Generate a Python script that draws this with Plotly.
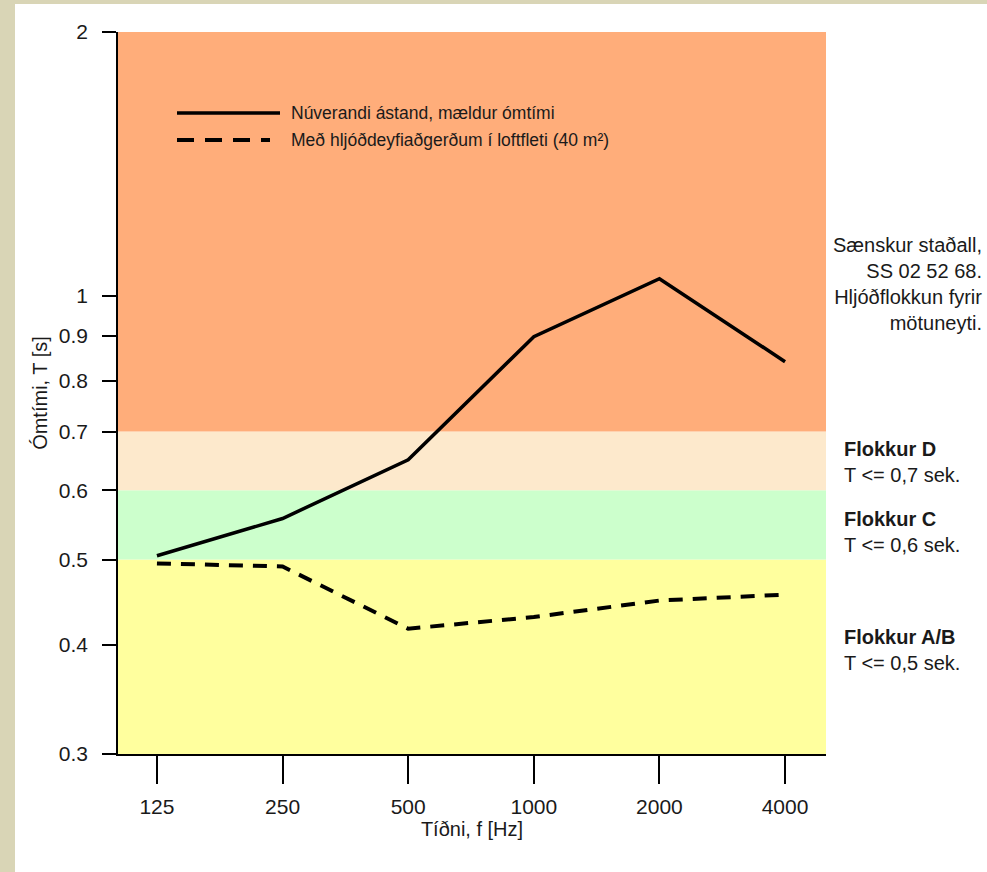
import plotly.graph_objects as go

# ---- data ----
freqs = ["125", "250", "500", "1000", "2000", "4000"]
measured = [0.505, 0.557, 0.650, 0.898, 1.046, 0.841]
treated = [0.495, 0.491, 0.417, 0.430, 0.449, 0.456]
series_names = ["Núverandi ástand, mældur ómtími",
                "Með hljóðdeyfiaðgerðum í loftfleti (40 m²)"]

y_tickvals = [0.3, 0.4, 0.5, 0.6, 0.7, 0.8, 0.9, 1, 2]
y_ticktext = ["0.3", "0.4", "0.5", "0.6", "0.7", "0.8", "0.9", "1", "2"]

band_low = [0.3, 0.5, 0.6, 0.7]
band_high = [0.5, 0.6, 0.7, 2.0]
band_colors = ["#FFFF9E", "#CCFFCC", "#FDE9CC", "#FFAD7A"]

class_titles = ["Flokkur D", "Flokkur C", "Flokkur A/B"]
class_limits = ["T <= 0,7 sek.", "T <= 0,6 sek.", "T <= 0,5 sek."]

# ---- layout geometry (pixels) ----
W, H = 987, 872
L, R, T, B = 118, 826, 32, 754
pw, ph = R - L, B - T


def px(x):
    return (x - L) / pw


def py(y):
    return (B - y) / ph


FONT = "Liberation Sans"
TXT = "#1a1a1a"

fig = go.Figure()

fig.add_trace(go.Scatter(
    x=freqs, y=measured, mode="lines", name=series_names[0],
    line=dict(color="black", width=3.5), showlegend=False))
fig.add_trace(go.Scatter(
    x=freqs, y=treated, mode="lines", name=series_names[1],
    line=dict(color="black", width=4, dash="14px,10px"), showlegend=False))

shapes = []
# white panel over beige background
shapes.append(dict(type="rect", xref="paper", yref="paper", layer="below",
                   x0=px(15), x1=px(W + 20), y0=py(H + 20), y1=py(4),
                   fillcolor="white", line=dict(width=0)))
# classification bands
for lo, hi, c in zip(band_low, band_high, band_colors):
    shapes.append(dict(type="rect", xref="paper", yref="y", layer="below",
                       x0=0, x1=1, y0=lo, y1=hi,
                       fillcolor=c, line=dict(width=0)))
# legend samples
shapes.append(dict(type="line", xref="paper", yref="paper",
                   x0=px(177), x1=px(280), y0=py(113), y1=py(113),
                   line=dict(color="black", width=3.5)))
shapes.append(dict(type="line", xref="paper", yref="paper",
                   x0=px(177), x1=px(270), y0=py(140), y1=py(140),
                   line=dict(color="black", width=4, dash="17px,11px")))

annotations = []
for name, yy in zip(series_names, [113, 140]):
    annotations.append(dict(xref="paper", yref="paper", x=px(289), y=py(yy),
                            xanchor="left", yanchor="middle", showarrow=False,
                            text=name, font=dict(family=FONT, size=17.5, color=TXT)))

for title, lim, yy in zip(class_titles, class_limits, [462, 531.5, 650]):
    annotations.append(dict(xref="paper", yref="paper", x=px(842), y=py(yy),
                            xanchor="left", yanchor="middle", showarrow=False,
                            align="left",
                            text="<b>" + title + "</b><br>" + lim,
                            font=dict(family=FONT, size=20, color=TXT)))

annotations.append(dict(xref="paper", yref="paper", x=px(984), y=py(283.5),
                        xanchor="right", yanchor="middle", showarrow=False,
                        align="right",
                        text="Sænskur staðall,<br>SS 02 52 68.<br>Hljóðflokkun fyrir<br>mötuneyti.",
                        font=dict(family=FONT, size=20, color=TXT)))

fig.update_layout(
    width=W, height=H,
    margin=dict(l=L, r=W - R, t=T, b=H - B, pad=0),
    paper_bgcolor="#D9D5B6",
    plot_bgcolor="rgba(0,0,0,0)",
    shapes=shapes,
    annotations=annotations,
    font=dict(family=FONT, color=TXT),
    showlegend=False,
)

fig.update_xaxes(
    type="category", range=[-0.31, 5.326],
    tickmode="array", tickvals=freqs, ticktext=freqs,
    ticks="outside", ticklen=28, tickwidth=1.5, tickcolor="black",
    showline=True, linecolor="black", linewidth=1.5,
    showgrid=False, zeroline=False,
    tickfont=dict(family=FONT, size=21, color=TXT),
    ticklabelstandoff=5,
    title=dict(text="Tíðni, f [Hz]", font=dict(family=FONT, size=20, color=TXT), standoff=0),
)

fig.update_yaxes(
    type="log", range=[-0.5228787, 0.30103],
    tickmode="array", tickvals=y_tickvals, ticktext=y_ticktext,
    ticks="outside", ticklen=14, tickwidth=1.5, tickcolor="black",
    showline=True, linecolor="black", linewidth=1.5,
    showgrid=False, zeroline=False,
    tickfont=dict(family=FONT, size=21, color=TXT),
    ticklabelstandoff=10,
    title=dict(text="Ómtími, T [s]", font=dict(family=FONT, size=20, color=TXT), standoff=6),
)

fig.write_html("out.html",
               config={"displayModeBar": False},
               post_script="document.body.style.margin='0';document.body.style.overflow='hidden';")
